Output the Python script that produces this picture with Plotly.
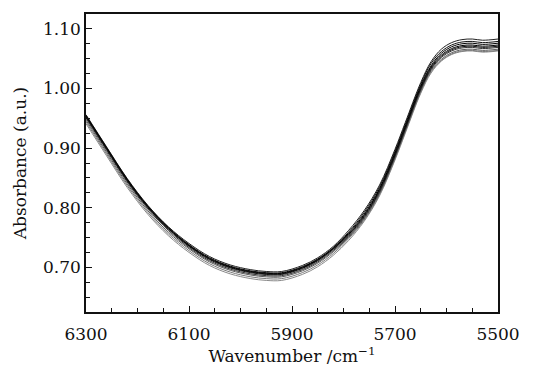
import plotly.graph_objects as go

wavenumber = [6300, 6260, 6220, 6180, 6140, 6100, 6060, 6020, 5980, 5950, 5920, 5880, 5850, 5820,
              5790, 5760, 5730, 5700, 5680, 5650, 5630, 5610, 5590, 5570, 5550, 5530, 5500]

sample_1 = [0.956, 0.902, 0.849, 0.804, 0.768, 0.740, 0.718, 0.704, 0.696, 0.693, 0.693, 0.703, 0.716, 0.735,
            0.762, 0.795, 0.838, 0.898, 0.943, 1.010, 1.045, 1.066, 1.077, 1.082, 1.083, 1.081, 1.083]
sample_2 = [0.955, 0.901, 0.848, 0.803, 0.767, 0.738, 0.716, 0.702, 0.694, 0.691, 0.691, 0.701, 0.714, 0.733,
            0.759, 0.792, 0.835, 0.895, 0.940, 1.007, 1.042, 1.062, 1.073, 1.078, 1.079, 1.077, 1.079]
sample_3 = [0.954, 0.900, 0.847, 0.802, 0.766, 0.737, 0.715, 0.701, 0.693, 0.690, 0.690, 0.700, 0.713, 0.732,
            0.757, 0.789, 0.832, 0.892, 0.937, 1.004, 1.038, 1.059, 1.070, 1.075, 1.076, 1.074, 1.076]
sample_4 = [0.953, 0.899, 0.846, 0.801, 0.765, 0.736, 0.714, 0.700, 0.692, 0.689, 0.689, 0.699, 0.712, 0.731,
            0.755, 0.787, 0.830, 0.890, 0.935, 1.002, 1.036, 1.056, 1.067, 1.072, 1.073, 1.071, 1.073]
sample_5 = [0.952, 0.898, 0.845, 0.800, 0.764, 0.735, 0.713, 0.699, 0.691, 0.688, 0.688, 0.698, 0.711, 0.730,
            0.754, 0.785, 0.828, 0.888, 0.933, 1.000, 1.034, 1.054, 1.065, 1.070, 1.071, 1.069, 1.071]
sample_6 = [0.950, 0.896, 0.843, 0.798, 0.762, 0.733, 0.711, 0.697, 0.689, 0.686, 0.686, 0.696, 0.709, 0.728,
            0.752, 0.783, 0.826, 0.886, 0.931, 0.998, 1.032, 1.052, 1.063, 1.068, 1.069, 1.067, 1.069]
sample_7 = [0.947, 0.893, 0.840, 0.795, 0.759, 0.731, 0.709, 0.695, 0.687, 0.684, 0.684, 0.694, 0.707, 0.726,
            0.750, 0.781, 0.824, 0.884, 0.929, 0.996, 1.030, 1.049, 1.060, 1.065, 1.066, 1.064, 1.066]
sample_8 = [0.944, 0.890, 0.837, 0.792, 0.756, 0.728, 0.706, 0.692, 0.684, 0.681, 0.681, 0.691, 0.704, 0.723,
            0.748, 0.779, 0.822, 0.882, 0.927, 0.994, 1.028, 1.047, 1.058, 1.063, 1.064, 1.062, 1.064]
sample_9 = [0.941, 0.887, 0.834, 0.789, 0.753, 0.725, 0.703, 0.689, 0.681, 0.678, 0.678, 0.688, 0.701, 0.720,
            0.745, 0.777, 0.820, 0.880, 0.925, 0.992, 1.026, 1.046, 1.057, 1.062, 1.063, 1.061, 1.063]

x_ticks = [6300, 6100, 5900, 5700, 5500]
y_ticks = [0.70, 0.80, 0.90, 1.00, 1.10]
y_ticklabels = ["0.70", "0.80", "0.90", "1.00", "1.10"]

series = [
    (sample_9, "#8a8a8a"),
    (sample_8, "#7a7a7a"),
    (sample_7, "#5a5a5a"),
    (sample_6, "#333333"),
    (sample_1, "#222222"),
    (sample_2, "#111111"),
    (sample_3, "#000000"),
    (sample_4, "#000000"),
    (sample_5, "#111111"),
]

FONT = "DejaVu Serif"

fig = go.Figure()
for vals, col in series:
    fig.add_trace(go.Scatter(
        x=wavenumber, y=vals, mode="lines",
        line=dict(color=col, width=1, shape="spline", smoothing=1.0),
        showlegend=False, hoverinfo="skip",
    ))

# page body has an 8px default margin: compensate so the plot lands where the reference has it
fig.update_layout(
    width=531, height=358,
    margin=dict(l=78, r=41, t=4, b=54),
    paper_bgcolor="white", plot_bgcolor="white",
    font=dict(family=FONT, size=17, color="#111111"),
)

fig.update_xaxes(
    range=[6300, 5500],
    tickmode="array", tickvals=x_ticks, ticktext=[str(v) for v in x_ticks],
    ticks="inside", ticklen=6, tickwidth=1.2, tickcolor="#111111",
    ticklabelstandoff=6,
    minor=dict(ticks="inside", ticklen=4, tickwidth=1, tickcolor="#111111", dtick=50, tick0=5500, showgrid=False),
    showline=True, linecolor="#111111", linewidth=1.5, mirror=True,
    showgrid=False, zeroline=False,
    tickfont=dict(family=FONT, size=17),
    title=dict(text="Wavenumber /cm<sup>−1</sup>", font=dict(family=FONT, size=17), standoff=4),
)

fig.update_yaxes(
    range=[0.625, 1.125],
    tickmode="array", tickvals=y_ticks, ticktext=y_ticklabels,
    ticks="inside", ticklen=6, tickwidth=1.2, tickcolor="#111111",
    minor=dict(ticks="inside", ticklen=4, tickwidth=1, tickcolor="#111111", dtick=0.025, tick0=0.625, showgrid=False),
    showline=True, linecolor="#111111", linewidth=1.5, mirror=True,
    showgrid=False, zeroline=False,
    tickfont=dict(family=FONT, size=17),
    title=dict(text="Absorbance (a.u.)", font=dict(family=FONT, size=17), standoff=12),
)

fig.write_html("out.html")
